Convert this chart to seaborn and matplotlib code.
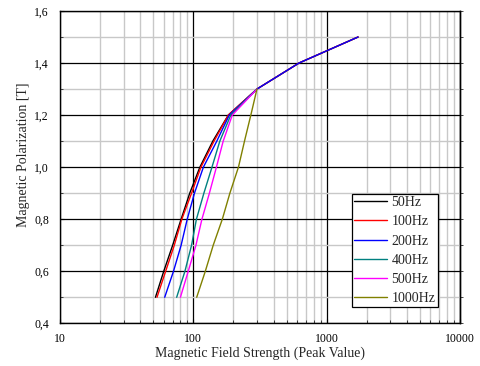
import matplotlib
matplotlib.use("Agg")
import matplotlib.pyplot as plt
from matplotlib.ticker import LogLocator, MultipleLocator, FixedLocator, NullFormatter, FuncFormatter
import numpy as np
import pandas as pd
import seaborn as sns

# Magnetic polarization levels [T]
j_full = [0.5, 0.6, 0.7, 0.8, 0.9, 1.0, 1.1, 1.2, 1.3, 1.4, 1.5]
j_short = [0.5, 0.6, 0.7, 0.8, 0.9, 1.0, 1.1, 1.2, 1.3]

# Peak field strength [A/m] per frequency
h_50hz = [52, 60, 70, 81, 94, 112, 140, 183, 300, 620, 1720]
h_100hz = [53.4, 62, 72, 82, 97, 114, 143, 183, 300, 620, 1720]
h_200hz = [61, 71, 81, 90, 102, 119, 150, 186, 300, 620, 1720]
h_400hz = [75, 86.5, 97, 105.5, 120, 138, 158, 191, 300]
h_500hz = [80, 91.6, 104.6, 116, 132, 149, 167.5, 196, 300]
h_1000hz = [106, 123, 141, 165, 188, 218, 242, 270, 300]

labels = ["50Hz", "100Hz", "200Hz", "400Hz", "500Hz", "1000Hz"]
colors = ["#000000", "#ff0000", "#0000ff", "#008080", "#ff00ff", "#808000"]
y_ticks = [0.4, 0.6, 0.8, 1.0, 1.2, 1.4, 1.6]
x_ticks = [10, 100, 1000, 10000]

series = [
    (labels[0], h_50hz, j_full),
    (labels[1], h_100hz, j_full),
    (labels[2], h_200hz, j_full),
    (labels[3], h_400hz, j_short),
    (labels[4], h_500hz, j_short),
    (labels[5], h_1000hz, j_short),
]
frames = []
for name, h, j in series:
    frames.append(pd.DataFrame({"H": h, "J": j, "freq": name}))
df = pd.concat(frames, ignore_index=True)

sns.set_style("white")
plt.rcParams["font.family"] = ["Liberation Serif", "DejaVu Serif"]

fig = plt.figure(figsize=(4.8, 3.66), dpi=100)
ax = fig.add_axes([0.125, 0.1167, 0.8333, 0.8533])

sns.lineplot(data=df, x="H", y="J", hue="freq", hue_order=labels,
             palette=dict(zip(labels, colors)), sort=False, estimator=None,
             units="freq", linewidth=1.0, ax=ax, legend=False, zorder=3)

ax.set_xscale("log")
ax.set_xlim(10, 10000)
ax.set_ylim(0.4, 1.6)

ax.xaxis.set_major_locator(FixedLocator(x_ticks))
ax.xaxis.set_minor_locator(LogLocator(base=10, subs=np.arange(2, 10)))
ax.xaxis.set_major_formatter(FuncFormatter(lambda v, p: f"{int(round(v))}"))
ax.xaxis.set_minor_formatter(NullFormatter())
ax.yaxis.set_major_locator(FixedLocator(y_ticks))
ax.yaxis.set_minor_locator(MultipleLocator(0.1))
ax.yaxis.set_major_formatter(FuncFormatter(lambda v, p: f"{v:.1f}".replace(".", ",")))

ax.grid(which="minor", color="#c8c8c8", linewidth=1.0, zorder=1)
ax.grid(which="major", color="#000000", linewidth=0.9, zorder=2)
ax.set_axisbelow(True)

for s in ax.spines.values():
    s.set_color("black")
    s.set_linewidth(1.0)

ax.tick_params(axis="both", which="major", direction="in", length=3, width=0.8,
               labelsize=8.5, colors="black", left=True, bottom=True)
ax.tick_params(axis="both", which="minor", direction="in", length=2, width=0.6,
               left=True, bottom=True)
ax.tick_params(axis="y", pad=8)
ax.tick_params(axis="x", pad=7)

# short outward ticks along the right edge
sec = ax.secondary_yaxis("right")
sec.yaxis.set_major_locator(FixedLocator(y_ticks))
sec.yaxis.set_minor_locator(MultipleLocator(0.1))
sec.tick_params(which="both", direction="out", length=2, width=0.6, labelright=False)
sec.spines["right"].set_linewidth(1.0)

ax.set_xlabel("Magnetic Field Strength (Peak Value)", fontsize=10)
ax.set_ylabel("Magnetic Polarization [T]", fontsize=10)
ax.xaxis.set_label_coords(0.5, -0.073)
ax.yaxis.set_label_coords(-0.074, 0.54)

handles = [plt.Line2D([], [], color=c, linewidth=1.0) for c in colors]
leg = ax.legend(handles, labels, loc="upper right", bbox_to_anchor=(0.944, 0.414),
                fontsize=10, frameon=True, fancybox=False, shadow=False,
                framealpha=1, edgecolor="black", borderaxespad=0,
                handlelength=2.4, handletextpad=0.3, labelspacing=0.45,
                borderpad=0.15)
leg.get_frame().set_linewidth(0.9)

fig.savefig("out.png", dpi=100)
